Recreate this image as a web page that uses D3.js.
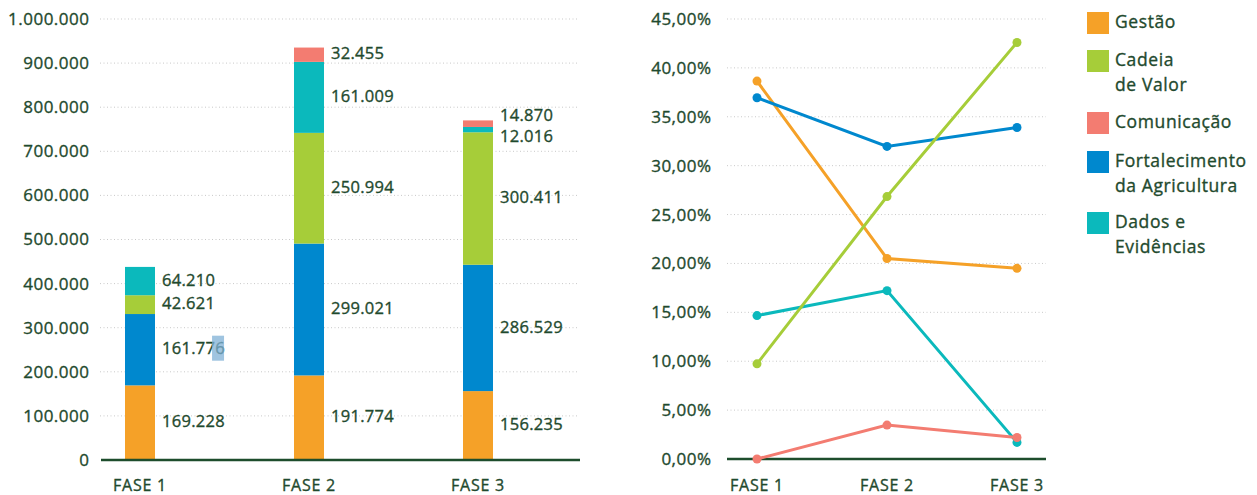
<!DOCTYPE html>
<html>
<head>
<meta charset="utf-8">
<script src="https://cdn.jsdelivr.net/npm/d3@7"></script>
<style>
  body { margin: 0; background: #fff; }
  text {
    font-family: "Open Sans", Lato, sans-serif;
    fill: #1f4a2e;
    stroke: #1f4a2e;
    stroke-width: 0.35px;
    letter-spacing: 0.5px;
  }
</style>
</head>
<body>
<svg id="chart" width="1257" height="495"></svg>
<script>
// data
var fases = ["FASE 1", "FASE 2", "FASE 3"];

var gestao = [169228, 191774, 156235];
var fortalecimento = [161776, 299021, 286529];
var cadeia = [42621, 250994, 300411];
var dados = [64210, 161009, 12016];
var comunicacao = [0, 32455, 14870];

// shares (%)
var gestaoPct = [38.65, 20.50, 19.50];
var cadeiaPct = [9.73, 26.84, 42.60];
var comunicacaoPct = [0, 3.47, 2.20];
var fortalecimentoPct = [36.95, 31.97, 33.90];
var dadosPct = [14.67, 17.22, 1.70];

var leftTicks = [0, 100000, 200000, 300000, 400000, 500000, 600000, 700000, 800000, 900000, 1000000];
var rightTicks = [0, 5, 10, 15, 20, 25, 30, 35, 40, 45];

var legendLabels = [["Gestão"], ["Cadeia", "de Valor"], ["Comunicação"], ["Fortalecimento", "da Agricultura"], ["Dados e", "Evidências"]];

var cores = {
  gestao: "#f5a128",
  cadeia: "#a6cd39",
  comunicacao: "#f37c71",
  fortalecimento: "#0088ce",
  dados: "#0bb9bc"
};

var svg = d3.select("#chart");
var loc = d3.formatLocale({decimal: ",", thousands: ".", grouping: [3], currency: ["R$", ""]});
var fmtNum = loc.format(",d");
var fmtPct = function(v) { return loc.format(".2f")(v) + "%"; };

// stacked bar chart (left)
var stackKeys = ["gestao", "fortalecimento", "cadeia", "dados", "comunicacao"];
var porSerie = {gestao: gestao, fortalecimento: fortalecimento, cadeia: cadeia, dados: dados, comunicacao: comunicacao};
var tabela = fases.map(function(f, i) {
  var row = {fase: f};
  stackKeys.forEach(function(k) { row[k] = porSerie[k][i]; });
  return row;
});

var xL = d3.scalePoint().domain(fases).range([140, 478]);
var yL = d3.scaleLinear().domain([0, 1000000]).range([460, 19]);
var barW = 30;

var gL = svg.append("g");

gL.append("g").selectAll("line")
  .data(leftTicks.slice(1))
  .enter().append("line")
    .attr("x1", 100).attr("x2", 578)
    .attr("y1", function(d) { return yL(d); })
    .attr("y2", function(d) { return yL(d); })
    .attr("stroke", "#c9c9c9")
    .attr("stroke-width", 1)
    .attr("stroke-dasharray", "1,2.5");

gL.append("g").selectAll("text")
  .data(leftTicks)
  .enter().append("text")
    .attr("x", 89.5)
    .attr("y", function(d) { return yL(d); })
    .attr("dy", "0.35em")
    .attr("text-anchor", "end")
    .style("font-size", "17px")
    .text(function(d) { return fmtNum(d); });

var stack = d3.stack().keys(stackKeys)(tabela);

var camadas = gL.append("g").selectAll("g")
  .data(stack)
  .enter().append("g")
    .attr("fill", function(d) { return cores[d.key]; });

camadas.selectAll("rect")
  .data(function(d) { return d; })
  .enter().append("rect")
    .attr("x", function(d) { return xL(d.data.fase) - barW / 2; })
    .attr("width", barW)
    .attr("y", function(d) { return yL(d[1]); })
    .attr("height", function(d) { return yL(d[0]) - yL(d[1]); });

// value labels, spread apart where segments are thin
fases.forEach(function(f, i) {
  var labs = [];
  stack.forEach(function(s) {
    var d = s[i];
    var v = d[1] - d[0];
    if (v > 0) labs.push({v: v, y: (yL(d[0]) + yL(d[1])) / 2});
  });
  labs.sort(function(a, b) { return a.y - b.y; });
  for (var it = 0; it < 10; it++) {
    for (var j = 0; j < labs.length - 1; j++) {
      var gap = labs[j + 1].y - labs[j].y;
      if (gap < 21) {
        var push = (21 - gap) / 2;
        labs[j].y -= push;
        labs[j + 1].y += push;
      }
    }
  }
  labs.forEach(function(l) {
    var t = gL.append("text")
      .attr("x", xL(f) + barW / 2 + 7)
      .attr("y", l.y - 1)
      .attr("dy", "0.35em")
      .style("font-size", "16.5px")
      .style("letter-spacing", "0.3px")
      .text(fmtNum(l.v));
    l.node = t.node();
  });
  // selection highlight in the original picture
  if (i === 0) {
    var alvo = labs.filter(function(l) { return l.v === fortalecimento[0]; })[0];
    var bb = alvo.node.getBBox();
    gL.append("rect")
      .attr("x", bb.x + bb.width - 13)
      .attr("y", alvo.y - 14)
      .attr("width", 12)
      .attr("height", 25)
      .attr("fill", "#7fb0d6")
      .attr("opacity", 0.75);
  }
});

gL.append("line")
  .attr("x1", 101).attr("x2", 580)
  .attr("y1", yL(0)).attr("y2", yL(0))
  .attr("stroke", "#1d4d2c")
  .attr("stroke-width", 2.5);

gL.append("g").selectAll("text")
  .data(fases)
  .enter().append("text")
    .attr("x", function(d) { return xL(d); })
    .attr("y", 485)
    .attr("dy", "0.35em")
    .attr("text-anchor", "middle")
    .style("font-size", "16px")
    .style("letter-spacing", "0.8px")
    .text(function(d) { return d; });

// line chart (right)
var xR = d3.scalePoint().domain(fases).range([757, 1017]);
var yR = d3.scaleLinear().domain([0, 45]).range([459, 19]);

var gR = svg.append("g");

gR.append("g").selectAll("line")
  .data(rightTicks.slice(1))
  .enter().append("line")
    .attr("x1", 727).attr("x2", 1046)
    .attr("y1", function(d) { return yR(d); })
    .attr("y2", function(d) { return yR(d); })
    .attr("stroke", "#c9c9c9")
    .attr("stroke-width", 1)
    .attr("stroke-dasharray", "1,2.5");

gR.append("g").selectAll("text")
  .data(rightTicks)
  .enter().append("text")
    .attr("x", 711.5)
    .attr("y", function(d) { return yR(d); })
    .attr("dy", "0.35em")
    .attr("text-anchor", "end")
    .style("font-size", "17px")
    .text(function(d) { return fmtPct(d); });

gR.append("line")
  .attr("x1", 727).attr("x2", 1046)
  .attr("y1", yR(0)).attr("y2", yR(0))
  .attr("stroke", "#1d4d2c")
  .attr("stroke-width", 2.5);

var linhas = [
  {key: "gestao", vals: gestaoPct},
  {key: "fortalecimento", vals: fortalecimentoPct},
  {key: "dados", vals: dadosPct},
  {key: "comunicacao", vals: comunicacaoPct},
  {key: "cadeia", vals: cadeiaPct}
];

var line = d3.line()
  .x(function(d, i) { return xR(fases[i]); })
  .y(function(d) { return yR(d); });

linhas.forEach(function(s) {
  gR.append("path")
    .datum(s.vals)
    .attr("d", line)
    .attr("fill", "none")
    .attr("stroke", cores[s.key])
    .attr("stroke-width", 3);
  gR.append("g").selectAll("circle")
    .data(s.vals)
    .enter().append("circle")
      .attr("cx", function(d, i) { return xR(fases[i]); })
      .attr("cy", function(d) { return yR(d); })
      .attr("r", 4.5)
      .attr("fill", cores[s.key]);
});

gR.append("g").selectAll("text")
  .data(fases)
  .enter().append("text")
    .attr("x", function(d) { return xR(d); })
    .attr("y", 485)
    .attr("dy", "0.35em")
    .attr("text-anchor", "middle")
    .style("font-size", "16px")
    .style("letter-spacing", "0.8px")
    .text(function(d) { return d; });

// legend
var legendKeys = ["gestao", "cadeia", "comunicacao", "fortalecimento", "dados"];
var legendTop = [12, 50, 112, 151, 212];

var leg = svg.append("g").selectAll("g")
  .data(legendKeys)
  .enter().append("g")
    .attr("transform", function(d, i) { return "translate(1087," + legendTop[i] + ")"; });

leg.append("rect")
  .attr("width", 22)
  .attr("height", 22)
  .attr("fill", function(d) { return cores[d]; });

leg.each(function(d, i) {
  var t = d3.select(this).append("text")
    .attr("x", 28)
    .attr("y", 10)
    .style("font-size", "17.5px")
    .style("letter-spacing", "0.6px");
  legendLabels[i].forEach(function(s, j) {
    t.append("tspan")
      .attr("x", 28)
      .attr("dy", j === 0 ? "0.35em" : 25)
      .text(s);
  });
});
</script>
</body>
</html>
